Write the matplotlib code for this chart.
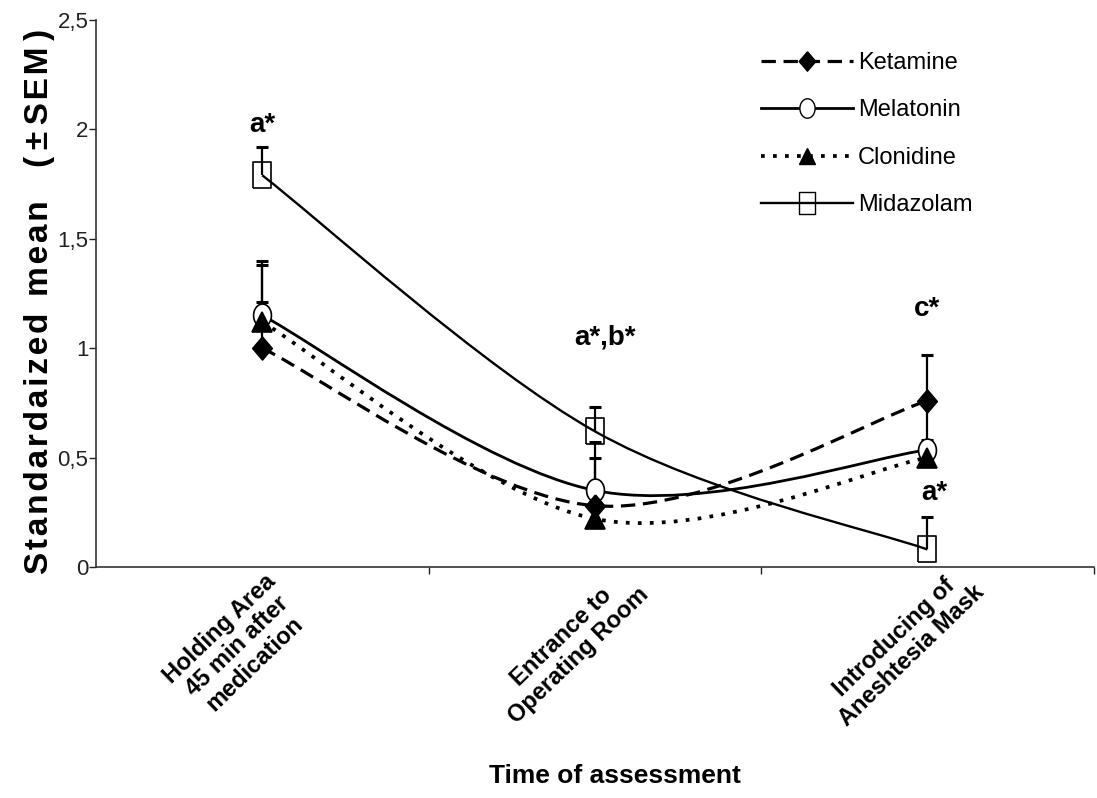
import numpy as np
import matplotlib
matplotlib.use('Agg')
import matplotlib.pyplot as plt
from matplotlib.path import Path
from matplotlib.patches import PathPatch
from matplotlib.lines import Line2D

plt.rcParams['font.family'] = ['Liberation Sans', 'DejaVu Sans']

# data
categories = ['Holding Area\n45 min after\nmedication',
              'Entrance to\nOperating Room',
              'Introducing of\nAneshtesia Mask']
series = ['Ketamine', 'Melatonin', 'Clonidine', 'Midazolam']
ketamine = [1.00, 0.28, 0.76]
melatonin = [1.15, 0.35, 0.535]
clonidine = [1.12, 0.22, 0.50]
midazolam = [1.79, 0.62, 0.08]
ketamine_sem = [0.40, 0.22, 0.21]
melatonin_sem = [0.23, 0.22, 0.22]
clonidine_sem = [0.09, 0.10, 0.08]
midazolam_sem = [0.13, 0.11, 0.15]
notes = ['a*', 'a*,b*', 'c*', 'a*']
note_x = [0, 1.03, 2, 2.02]
note_y = [2.02, 1.05, 1.18, 0.34]


def smooth_path(xs, ys):
    # Excel-like smoothed line (cubic bezier through the points)
    pts = np.column_stack([xs, ys]).astype(float)
    n = len(pts)
    verts = [pts[0]]
    codes = [Path.MOVETO]
    for i in range(n - 1):
        p_prev = pts[i - 1] if i > 0 else pts[i]
        p_next = pts[i + 2] if i + 2 < n else pts[i + 1]
        c1 = pts[i] + (pts[i + 1] - p_prev) / 6
        c2 = pts[i + 1] - (p_next - pts[i]) / 6
        verts += [c1, c2, pts[i + 1]]
        codes += [Path.CURVE4] * 3
    return Path(verts, codes)


t = np.linspace(0, 2 * np.pi, 41)
ellipse = list(zip(0.78 * np.cos(t), np.sin(t)))
diamond = [(0, 1), (0.85, 0), (0, -1), (-0.85, 0), (0, 1)]
rect = [(-0.68, -1), (0.68, -1), (0.68, 1), (-0.68, 1), (-0.68, -1)]

styles = {
    'Ketamine': dict(ls=(0, (4.5, 2.4)), lw=2.3, marker=diamond, ms=16.5, mfc='black'),
    'Melatonin': dict(ls='-', lw=2.0, marker=ellipse, ms=16.5, mfc='white'),
    'Clonidine': dict(ls=(0, (1, 2.2)), lw=2.7, marker='^', ms=14, mfc='black'),
    'Midazolam': dict(ls='-', lw=1.7, marker=rect, ms=19, mfc='none'),
}
values = dict(zip(series, [ketamine, melatonin, clonidine, midazolam]))
sems = dict(zip(series, [ketamine_sem, melatonin_sem, clonidine_sem, midazolam_sem]))

x = np.arange(len(categories))

fig = plt.figure(figsize=(10.97, 7.98), dpi=100)
ax = fig.add_axes([0.0875, 0.2895, 0.9095, 0.6855])

# error bars (upper only)
for s in series:
    v = np.array(values[s])
    top = v + np.array(sems[s])
    ax.vlines(x, v, top, color='black', lw=1.6, zorder=2)
    ax.plot(x, top, ls='none', marker='_', ms=8, mew=2.2, color='black', zorder=2)

# smoothed lines
for s in series:
    st = styles[s]
    ax.add_patch(PathPatch(smooth_path(x, values[s]), fill=False, edgecolor='black',
                           lw=st['lw'], linestyle=st['ls'], zorder=3))

# markers
order = ['Midazolam', 'Melatonin', 'Ketamine', 'Clonidine']
for k, s in enumerate(order):
    st = styles[s]
    ax.plot(x, values[s], ls='none', marker=st['marker'], ms=st['ms'],
            mfc=st['mfc'], mec='black', mew=1.2, zorder=4 + k)

for txt, nx, ny in zip(notes, note_x, note_y):
    ax.text(nx, ny, txt, ha='center', va='center', fontsize=20, fontweight='bold')

ax.set_xlim(-0.5, 2.5)
ax.set_ylim(0, 2.5)
ax.set_yticks([0, 0.5, 1, 1.5, 2, 2.5])
ax.set_yticklabels(['0', '0,5', '1', '1,5', '2', '2,5'], fontsize=16)
ax.set_xticks([0.5, 1.5, 2.5])
ax.set_xticklabels([])
ax.tick_params(axis='both', direction='out', length=5, width=1, colors='#222222')
ax.tick_params(axis='y', pad=0.5)
for side in ['top', 'right']:
    ax.spines[side].set_visible(False)
for side in ['left', 'bottom']:
    ax.spines[side].set_color('#333333')
    ax.spines[side].set_linewidth(1.2)

for i, c in enumerate(categories):
    ax.text(i - 0.075, -0.145, c, transform=ax.get_xaxis_transform(), rotation=44,
            ha='center', va='center', multialignment='center', fontsize=17,
            fontweight='bold', linespacing=1.1)

ylab = '\u200a'.join('Standardaized') + '\u2002' + '\u200a'.join('mean') + \
    '\u2003(\u2009\u00b1\u2009S\u200aE\u200aM\u2009)'
ax.set_ylabel(ylab, fontsize=24, fontweight='bold')
ax.yaxis.set_label_coords(-0.041, 0.485)
fig.text(0.561, 0.028, 'Time of assessment', ha='center', va='center',
         fontsize=19, fontweight='bold')

handles = []
for s in series:
    st = styles[s]
    handles.append(Line2D([], [], color='black', ls=st['ls'], lw=st['lw'],
                          marker=st['marker'], ms=st['ms'] * 0.85, mfc=st['mfc'],
                          mec='black'))
ax.legend(handles, series, loc='upper left', bbox_to_anchor=(0.655, 0.963),
          frameon=False, fontsize=17, handlelength=3.9, handletextpad=0.2,
          labelspacing=1.08, borderpad=0)

fig.savefig('out.png', dpi=100)
